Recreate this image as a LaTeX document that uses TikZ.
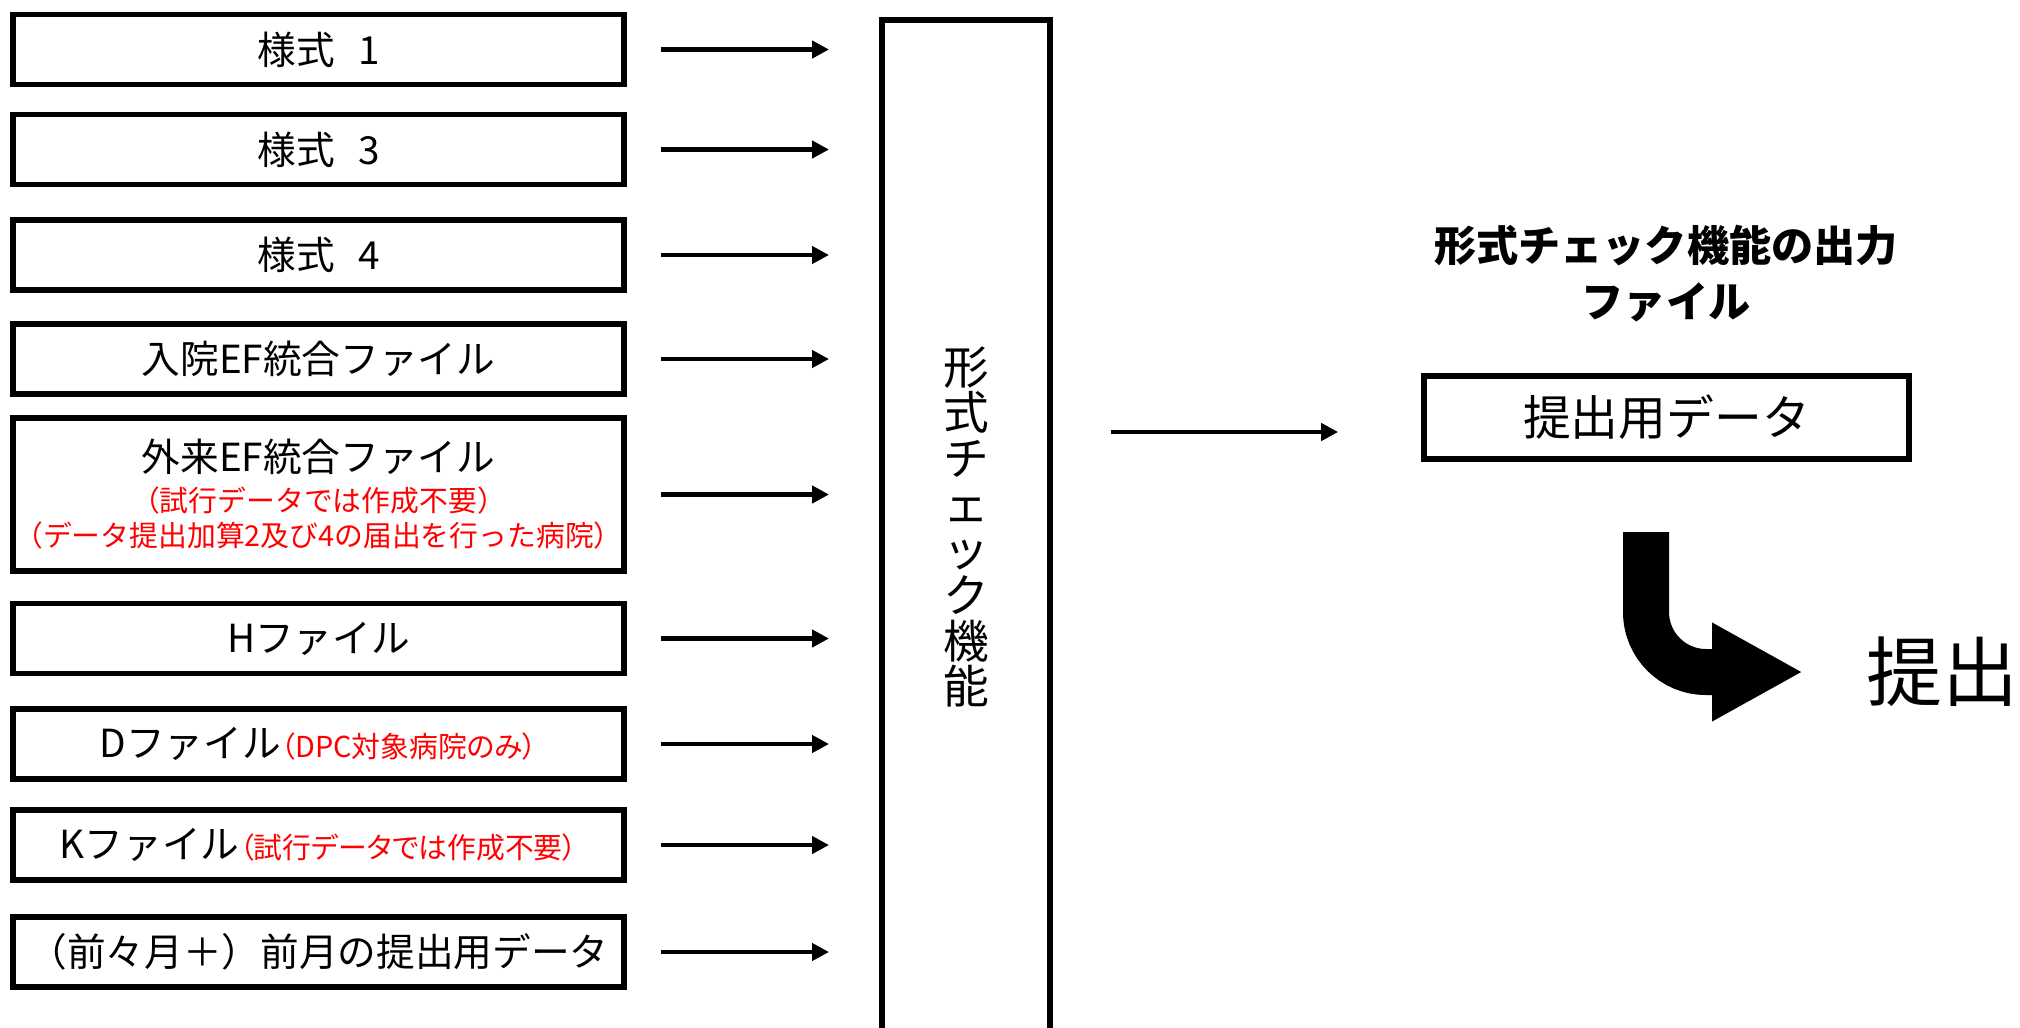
\documentclass[tikz,border=0pt]{standalone}
\usepackage{fontspec}
\setmainfont{Noto Sans CJK JP}
\usetikzlibrary{calc,arrows.meta}

\begin{document}
\begin{tikzpicture}[font=\fontsize{11pt}{13pt}\selectfont,
		srcbox/.style={draw, line width=1.6pt, minimum width=6.115cm, minimum height=0.70cm, inner sep=0pt},
		outbox/.style={draw, line width=1.6pt, minimum width=4.85cm, minimum height=0.83cm, inner sep=0pt},
		flow/.style={line width=1.4pt, -{Triangle[length=0.17cm,width=0.17cm]}},
		bigflow/.style={line width=0.46cm, -{Triangle[length=0.91cm,width=0.92cm]}},
	]
		\useasboundingbox (0,0) rectangle (20.2,-10.27);

		% input files
		\node[srcbox] (f1) at (3.185,-0.495) {様式\hspace{0.6em}1};
		\node[srcbox] (f3) at (3.185,-1.495) {様式\hspace{0.6em}3};
		\node[srcbox] (f4) at (3.185,-2.55) {様式\hspace{0.6em}4};
		\node[srcbox] (ein) at (3.185,-3.59) {入院EF統合ファイル};
		\node[srcbox, minimum height=1.535cm, align=center, font=\fontsize{11pt}{10pt}\selectfont] (eout) at (3.185,-4.945)
			{外来EF統合ファイル\\[1.4pt]
			 \textcolor{red}{\fontsize{8.2pt}{10pt}\selectfont（試行データでは作成不要）}\\
			 \textcolor{red}{\fontsize{8.2pt}{10pt}\selectfont（データ提出加算2及び4の届出を行った病院）}};
		\node[srcbox] (fh) at (3.185,-6.385) {Hファイル};
		\node[srcbox] (fd) at (3.185,-7.44) {Dファイル\textcolor{red}{\fontsize{8.2pt}{10pt}\selectfont\addfontfeature{RawFeature=+palt}（DPC対象病院のみ）}};
		\node[srcbox] (fk) at (3.185,-8.45) {Kファイル\textcolor{red}{\fontsize{8.2pt}{10pt}\selectfont\addfontfeature{RawFeature=+palt}（試行データでは作成不要）}};
		\node[srcbox] (prev) at (3.185,-9.52) {（前々月＋）前月の提出用データ};

		% check function
		\node[draw, line width=1.7pt, minimum width=1.68cm, minimum height=10.14cm, inner sep=0pt,
			align=center, font=\fontsize{13pt}{13pt}\selectfont] (check) at (9.66,-5.27)
			{形\\式\\チ\\ェ\\ッ\\ク\\機\\能};

		\path[flow, shorten <=0.34cm, shorten >=0.5cm]
			(f1.east) edge (f1.east -| check.west)
			(f3.east) edge (f3.east -| check.west)
			(f4.east) edge (f4.east -| check.west)
			(ein.east) edge (ein.east -| check.west)
			(eout.east) edge (eout.east -| check.west)
			(fh.east) edge (fh.east -| check.west)
			(fd.east) edge (fd.east -| check.west)
			(fk.east) edge (fk.east -| check.west)
			(prev.east) edge (prev.east -| check.west)
		;

		% output
		\node[align=center, font=\fontsize{12pt}{15.9pt}\selectfont\bfseries] (title) at (16.66,-2.74)
			{形式チェック機能の出力\\ファイル};
		\node[outbox, font=\fontsize{13.6pt}{16pt}\selectfont] (data) at (16.665,-4.175) {提出用データ};
		\path[flow, shorten <=0.58cm, shorten >=0.83cm]
			([yshift=-0.145cm]check.east |- data.west) edge ([yshift=-0.145cm]data.west);

		\node[anchor=west, inner sep=0pt, font=\fontsize{21.6pt}{24pt}\selectfont] (submit) at (18.66,-6.72) {提出};
		\coordinate (bend) at (16.46,-5.32);
		\draw[bigflow, shorten >=0.63cm] (bend) -- (16.46,-6.12)
			arc[start angle=180, end angle=270, radius=0.6] -- (submit.west);
	\end{tikzpicture}
\end{document}
